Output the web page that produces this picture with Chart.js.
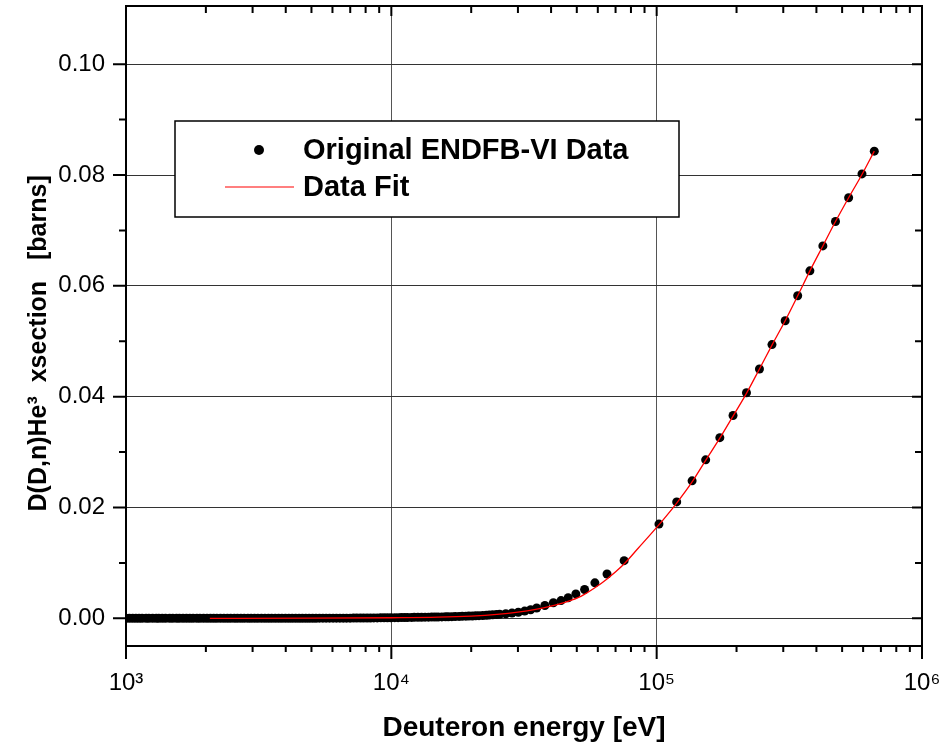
<!DOCTYPE html>
<html>
<head>
<meta charset="utf-8">
<script src="https://cdn.jsdelivr.net/npm/chart.js@4.4.1/dist/chart.umd.min.js"></script>
<style>
  body { margin: 0; background: #fff; }
  #wrap { width: 945px; height: 752px; }
</style>
</head>
<body>
<div id="wrap"><canvas id="myChart" width="945" height="752"></canvas></div>
<script>
/* DATA */

// ENDF/B-VI points (eV, barns), ten per row
const dataEnergy = [
  1000, 1030, 1060, 1090, 1120, 1150, 1190, 1220, 1260, 1300,
  1330, 1370, 1410, 1460, 1500, 1550, 1590, 1640, 1690, 1740,
  1790, 1850, 1900, 1960, 2020, 2080, 2140, 2200, 2270, 2340,
  2410, 2480, 2560, 2630, 2710, 2790, 2880, 2960, 3050, 3140,
  3240, 3340, 3440, 3540, 3650, 3760, 3870, 3990, 4110, 4230,
  4360, 4490, 4620, 4760, 4900, 5050, 5200, 5360, 5520, 5680,
  5850, 6030, 6210, 6400, 6590, 6780, 6990, 7200, 7410, 7640,
  7860, 8100, 8340, 8590, 8850, 9120, 9390, 9670, 9960, 10300,
  10600, 10900, 11200, 11500, 11900, 12200, 12600, 13000, 13400, 13800,
  14200, 14600, 15000, 15500, 16000, 16400, 16900, 17400, 18000, 18500,
  19100, 19600, 20200, 20800, 21400, 22100, 22800, 23400, 24100, 24900,
  25600, 27000, 28500, 30100, 31800, 33500, 35300, 37900, 40800, 43600,
  46400, 49600, 53500, 58500, 65000, 75400, 102000, 119000, 136000, 153000,
  173000, 194000, 218000, 244000, 272000, 305000, 340000, 378000, 423000, 472000,
  529000, 594000, 661000
]
const dataXsec = [
  0.00000, 0.00000, 0.00000, 0.00000, 0.00000, 0.00000, 0.00000, 0.00000, 0.00000, 0.00000,
  0.00000, 0.00000, 0.00000, 0.00000, 0.00000, 0.00000, 0.00000, 0.00000, 0.00000, 0.00000,
  0.00000, 0.00000, 0.00000, 0.00000, 0.00000, 0.00000, 0.00000, 0.00000, 0.00000, 0.00000,
  0.00000, 0.00000, 0.00000, 0.00000, 0.00000, 0.00000, 0.00000, 0.00000, 0.00000, 0.00000,
  0.00000, 0.00000, 0.00000, 0.00000, 0.00000, 0.00000, 0.00001, 0.00001, 0.00001, 0.00001,
  0.00001, 0.00001, 0.00001, 0.00001, 0.00001, 0.00001, 0.00001, 0.00002, 0.00002, 0.00002,
  0.00002, 0.00002, 0.00002, 0.00003, 0.00003, 0.00003, 0.00003, 0.00004, 0.00004, 0.00004,
  0.00005, 0.00006, 0.00006, 0.00007, 0.00007, 0.00008, 0.00009, 0.00009, 0.00010, 0.00011,
  0.00012, 0.00013, 0.00014, 0.00015, 0.00016, 0.00017, 0.00018, 0.00019, 0.00020, 0.00021,
  0.00022, 0.00023, 0.00024, 0.00025, 0.00027, 0.00028, 0.00030, 0.00032, 0.00034, 0.00036,
  0.00038, 0.00040, 0.00042, 0.00045, 0.00048, 0.00051, 0.00054, 0.00058, 0.00062, 0.00067,
  0.00072, 0.00082, 0.00095, 0.00110, 0.00130, 0.00155, 0.00186, 0.00230, 0.00280, 0.00320,
  0.00370, 0.00440, 0.00520, 0.00640, 0.00800, 0.01040, 0.01700, 0.02100, 0.02480, 0.02860,
  0.03260, 0.03660, 0.04070, 0.04500, 0.04940, 0.05370, 0.05820, 0.06270, 0.06720, 0.07160,
  0.07590, 0.08020, 0.08430
]

// fitted curve
const fitEnergy = [
  2070, 5000, 10000, 15000, 20000, 25000, 30000, 35000, 40000, 46000, 52000,
  58500, 65000, 75000, 85000, 100000, 119000, 136000, 153000, 173000,
  194000, 218000, 244000, 272000, 305000, 340000, 378000, 423000, 472000,
  529000, 594000, 661000
]
const fitXsec = [
  0.0000, 0.00002, 0.0001, 0.0002, 0.0004, 0.0007, 0.0011, 0.0016, 0.0022,
  0.0030, 0.0040, 0.0055, 0.0071, 0.0097, 0.0126, 0.0164, 0.0208, 0.0246,
  0.0285, 0.0325, 0.0365, 0.0406, 0.0450, 0.0493, 0.0537, 0.0582, 0.0627,
  0.0672, 0.0716, 0.0759, 0.0801, 0.0843
]

const xDecades = [1e3, 1e4, 1e5, 1e6]
const xMinor = [2, 3, 4, 5, 6, 7, 8, 9]
const yMajor = [0, 0.02, 0.04, 0.06, 0.08, 0.10]
const yMinor = [0.01, 0.03, 0.05, 0.07, 0.09]
const sup = { 3: '\u00b3', 4: '\u2074', 5: '\u2075', 6: '\u2076' }

const legendLabels = ['Original ENDFB-VI Data', 'Data Fit']

Chart.defaults.font.family = "'Liberation Sans', Arial, sans-serif"
Chart.defaults.color = '#000'

/* FRAME, TICKS AND LEGEND */

const frameTicks = {
  id: 'frameTicks',
  afterDraw(chart) {
    const { ctx, chartArea: { left, right, top, bottom }, scales: { x, y } } = chart
    ctx.save()
    ctx.strokeStyle = '#000'
    ctx.lineWidth = 2
    ctx.beginPath()
    xDecades.forEach((d, i) => {
      const px = x.getPixelForValue(d)
      ctx.moveTo(px, bottom); ctx.lineTo(px, bottom + 13)
      ctx.moveTo(px, top); ctx.lineTo(px, top + 10)
      if (i < xDecades.length - 1) {
        xMinor.forEach(m => {
          const mx = x.getPixelForValue(m * d)
          ctx.moveTo(mx, bottom); ctx.lineTo(mx, bottom + 6)
          ctx.moveTo(mx, top); ctx.lineTo(mx, top + 7)
        })
      }
    })
    yMajor.forEach(v => {
      const py = y.getPixelForValue(v)
      ctx.moveTo(left, py); ctx.lineTo(left - 13, py)
      ctx.moveTo(right, py); ctx.lineTo(right - 10, py)
    })
    yMinor.forEach(v => {
      const py = y.getPixelForValue(v)
      ctx.moveTo(left, py); ctx.lineTo(left - 7, py)
      ctx.moveTo(right, py); ctx.lineTo(right - 7, py)
    })
    ctx.stroke()
    ctx.strokeRect(left, top, right - left, bottom - top)

    // legend
    ctx.fillStyle = '#fff'
    ctx.fillRect(175, 121, 504, 96)
    ctx.lineWidth = 1.5
    ctx.strokeStyle = '#000'
    ctx.strokeRect(175, 121, 504, 96)
    ctx.fillStyle = '#000'
    ctx.beginPath()
    ctx.arc(259, 150, 5, 0, Math.PI * 2)
    ctx.fill()
    ctx.strokeStyle = 'red'
    ctx.lineWidth = 1.2
    ctx.beginPath()
    ctx.moveTo(225, 187); ctx.lineTo(294, 187)
    ctx.stroke()
    ctx.font = "bold 29px 'Liberation Sans', Arial, sans-serif"
    ctx.textBaseline = 'middle'
    ctx.fillText(legendLabels[0], 303, 151)
    ctx.fillText(legendLabels[1], 303, 188)
    ctx.restore()
  }
}

/* CHART */

const ctx = document.getElementById('myChart').getContext('2d')
const myChart = new Chart(ctx, {
  type: 'scatter',
  data: {
    datasets: [{
      label: legendLabels[1],
      data: fitEnergy.map((e, i) => ({ x: e, y: fitXsec[i] })),
      showLine: true,
      borderColor: 'red',
      borderWidth: 1.3,
      pointRadius: 0,
      cubicInterpolationMode: 'monotone',
      order: 0
    }, {
      label: legendLabels[0],
      data: dataEnergy.map((e, i) => ({ x: e, y: dataXsec[i] })),
      backgroundColor: '#000',
      borderWidth: 0,
      pointRadius: 4.5,
      clip: 0,
      order: 1
    }]
  },
  options: {
    responsive: false,
    animation: false,
    layout: { padding: { top: 6, right: 23, left: 0, bottom: 0 } },
    plugins: {
      legend: { display: false },
      tooltip: { enabled: false }
    },
    scales: {
      x: {
        type: 'logarithmic',
        min: 1e3,
        max: 1e6,
        afterBuildTicks: scale => {
          scale.ticks = xDecades.map(v => ({ value: v, major: true }))
        },
        afterFit: scale => {
          scale.height = 106
          scale.paddingLeft = 0
          scale.paddingRight = 0
        },
        ticks: {
          font: { size: 24 },
          padding: 10,
          maxRotation: 0,
          callback: v => '10' + sup[Math.round(Math.log10(v))]
        },
        grid: { color: '#555', lineWidth: 1, tickLength: 13, tickColor: 'rgba(0,0,0,0)' },
        border: { display: false },
        title: {
          display: true,
          text: 'Deuteron energy [eV]',
          font: { size: 28, weight: 'bold' },
          padding: { top: 0, bottom: 7 }
        }
      },
      y: {
        min: -0.005,
        max: 0.1105,
        afterBuildTicks: scale => {
          scale.ticks = yMajor.map(v => ({ value: v }))
        },
        afterFit: scale => {
          scale.width = 126
          scale.paddingTop = 0
          scale.paddingBottom = 0
        },
        ticks: {
          font: { size: 24 },
          padding: 8,
          callback: v => v.toFixed(2)
        },
        grid: { color: '#333', lineWidth: 1, tickLength: 13, tickColor: 'rgba(0,0,0,0)' },
        border: { display: false },
        title: {
          display: true,
          text: 'D(D,n)He\u00b3  xsection   [barns]     ',
          font: { size: 25, weight: 'bold' },
          padding: { top: 24, bottom: 0 }
        }
      }
    }
  },
  plugins: [frameTicks]
})
</script>
</body>
</html>
